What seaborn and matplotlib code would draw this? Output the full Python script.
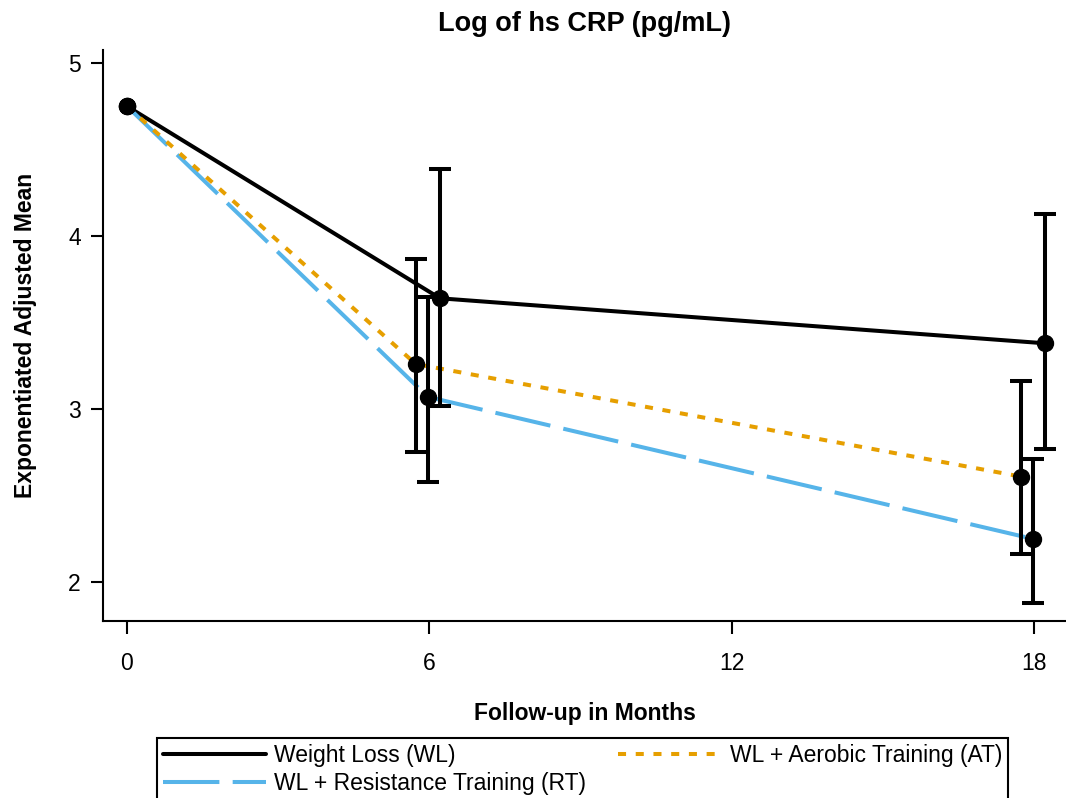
import seaborn as sns
import numpy as np
import pandas as pd
import matplotlib.pyplot as plt


#data
months = [0, 6, 18]
groups = ["WL", "RT", "AT"]
group_labels = {"WL": "Weight Loss (WL)",
                "RT": "WL + Resistance Training (RT)",
                "AT": "WL + Aerobic Training (AT)"}

wl_mean = [4.75, 3.64, 3.38]
wl_low = [np.nan, 3.02, 2.77]
wl_high = [np.nan, 4.39, 4.13]

rt_mean = [4.75, 3.07, 2.25]
rt_low = [np.nan, 2.58, 1.88]
rt_high = [np.nan, 3.65, 2.71]

at_mean = [4.75, 3.26, 2.61]
at_low = [np.nan, 2.75, 2.16]
at_high = [np.nan, 3.87, 3.16]

#horizontal offset so the bars don't sit on top of each other (not at baseline)
offsets = {"WL": 0.21, "RT": -0.03, "AT": -0.27}

colors = {"WL": "black", "RT": "#56B4E9", "AT": "#E69F00"}
dashes = {"WL": "", "RT": (14, 3.3), "AT": (2, 2.4)}

rows = []
for g, m, lo, hi in [("WL", wl_mean, wl_low, wl_high),
                     ("RT", rt_mean, rt_low, rt_high),
                     ("AT", at_mean, at_low, at_high)]:
    for i in range(len(months)):
        x = months[i] + (offsets[g] if months[i] > 0 else 0)
        rows.append({"x": x, "mean": m[i], "low": lo[i], "high": hi[i],
                     "group": group_labels[g]})
df = pd.DataFrame(rows)


sns.set_style("ticks")
plt.rcParams["font.family"] = ["Liberation Sans", "DejaVu Sans"]
plt.rcParams["text.color"] = "black"
plt.rcParams["axes.labelcolor"] = "black"

fig = plt.figure(figsize=(10.66, 7.98), dpi=100)
ax = fig.add_axes([103/1066, 177/798, 963/1066, 571/798])

order = [group_labels[g] for g in groups]
ax = sns.lineplot(data=df, x="x", y="mean", hue="group", style="group",
                  hue_order=order, style_order=order,
                  palette={group_labels[g]: colors[g] for g in groups},
                  dashes={group_labels[g]: dashes[g] for g in groups},
                  linewidth=2.9, sort=False, estimator=None, ax=ax)

#error bars and dots
for g in groups:
    sub = df[df["group"] == group_labels[g]]
    ok = sub["low"].notna()
    ax.errorbar(sub["x"][ok], sub["mean"][ok],
                yerr=[sub["mean"][ok]-sub["low"][ok], sub["high"][ok]-sub["mean"][ok]],
                fmt="none", ecolor="black", elinewidth=2.9, capsize=8, capthick=2.9, zorder=4)
    ax.plot(sub["x"], sub["mean"], "o", color="black", markersize=11.5, zorder=5)

ax.set_xlim(-0.476, 18.63)
ax.set_ylim(1.775, 5.075)
ax.set_xticks([0, 6, 12, 18])
ax.set_yticks([2, 3, 4, 5])
sns.despine(ax=ax)
for s in ["left", "bottom"]:
    ax.spines[s].set_linewidth(1.5)
    ax.spines[s].set_color("black")
ax.tick_params(axis="both", length=9, width=1.5, labelsize=16.5, colors="black")
ax.tick_params(axis="x", pad=13)
ax.tick_params(axis="y", pad=7)

ax.set_xlabel("Follow-up in Months", fontsize=16.5, fontweight="bold", labelpad=20)
ax.set_ylabel("Exponentiated Adjusted Mean", fontsize=16.5, fontweight="bold", labelpad=22)
ax.set_title("Log of hs CRP (pg/mL)", fontsize=19.5, fontweight="bold", pad=14)

leg = ax.get_legend()
handles = leg.legend_handles
labels = [t.get_text() for t in leg.texts]
leg.remove()
for h in handles:
    h.set_linewidth(2.9)
fig.legend(handles, labels, loc="upper left", bbox_to_anchor=(157/1066, 1-738/798),
           ncol=2, fontsize=16.5, frameon=True, fancybox=False, edgecolor="black",
           framealpha=1, borderaxespad=0, borderpad=0.25, handlelength=4.5,
           handletextpad=0.36, columnspacing=1.4, labelspacing=0.25)
fig.legends[0].get_frame().set_linewidth(1.5)

plt.savefig("out.png", dpi=100)
